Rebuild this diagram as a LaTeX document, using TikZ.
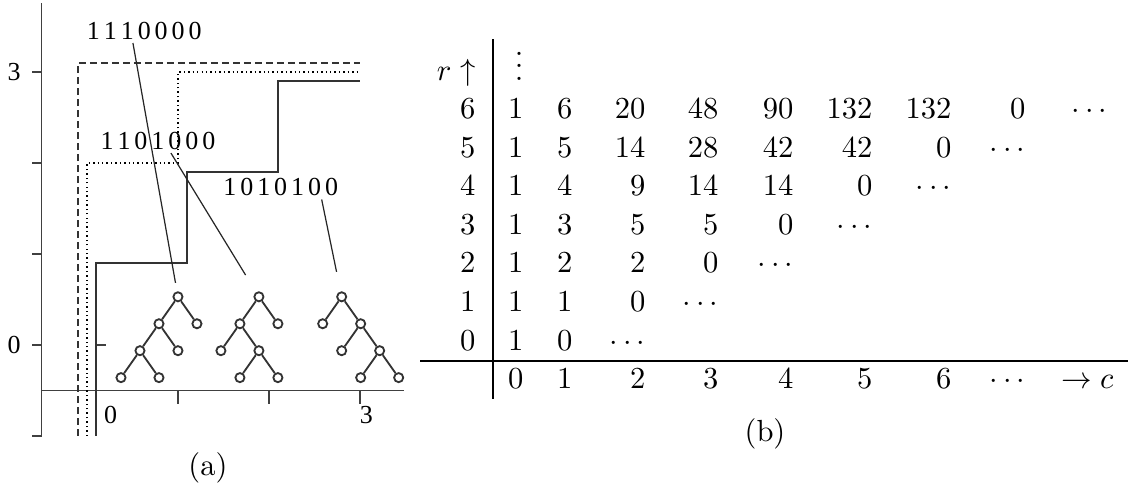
\documentclass[tikz,border=0pt]{standalone}
\usepackage{xcolor}
\usepackage{tikz}
\usepackage{fontspec}
\newfontfamily\bitfont{Liberation Serif}

\tikzset{
  axisline/.style={black!75, line width=0.5pt},
  lattice/.style={black!80, line width=0.5pt},
  pointer/.style={black!85, line width=0.4pt},
  vx/.style={circle, draw=black!80, line width=0.6pt, inner sep=0pt, minimum size=0.105cm},
  bits/.style={font={\fontsize{8.5}{9}\bitfont\spaceskip=1.3pt\relax}, inner sep=0pt},
  entry/.style={anchor=base east, inner sep=0pt}
}

\begin{document}
\begin{tikzpicture}[x=0.0115cm, y=-0.0115cm]
    \useasboundingbox (0,0) rectangle (1128,488);

    % Here is the picture (a), one unit for each step
    \begin{scope}[shift={(87,345)}, x=1.0465cm, y=1.0465cm]
    % the axes with ticks
    \draw[axisline] (-0.5,-1) -- (-0.5,3.76);
    \draw[axisline] (-0.5,-0.5) -- (3.49,-0.5);
    \foreach \v in {-1,0,1,2,3}
        \draw[axisline] (-0.6,\v) -- (-0.5,\v);
    \foreach \u in {1,2,3}
        \draw[axisline] (\u,-0.5) -- (\u,-0.65);
    \draw[axisline] (0.1,0) -- (0.21,0);

    \node[bits] (ya3) at (-0.8,3) {3};
    \node[bits] (ya0) at (-0.8,0) {0};
    \node[bits] (xa0) at (0.26,-0.77) {0};
    \node[bits] (xa3) at (3.07,-0.77) {3};

    % the three lattice paths
    \draw[lattice, dash pattern=on 2.3pt off 1.3pt] (-0.1,-1) |- (3,3.1);
    \draw[black, line width=0.55pt, dash pattern=on 0.45pt off 1pt] (0,-1) |- (1,2) |- (3,3);
    \draw[lattice] (0.1,-1) |- (1.1,0.9) |- (2.1,1.9) |- (3,2.9);

    % the trees
    \begin{scope}[level distance=0.31cm, sibling distance=0.437cm,
        edge from parent/.style={draw, black!80, line width=0.6pt}]
    \node[vx] (ta) at (1,0.53) {}
        child {node[vx] {}
            child {node[vx] {}
                child {node[vx] {}}
                child {node[vx] {}}}
            child {node[vx] {}}}
        child {node[vx] {}};
    \node[vx] (tb) at (1.89,0.53) {}
        child {node[vx] {}
            child {node[vx] {}}
            child {node[vx] {}
                child {node[vx] {}}
                child {node[vx] {}}}}
        child {node[vx] {}};
    \node[vx] (tc) at (2.8,0.53) {}
        child {node[vx] {}}
        child {node[vx] {}
            child {node[vx] {}}
            child {node[vx] {}
                child {node[vx] {}}
                child {node[vx] {}}}};
    \end{scope}

    % using node for the words
    \node[bits] (l1) at (0.63,3.45) {1 1 1 0 0 0 0};
    \node[bits] (l2) at (0.78,2.24) {1 1 0 1 0 0 0};
    \node[bits] (l3) at (2.13,1.74) {1 0 1 0 1 0 0};

    \coordinate (s1) at (0.505,3.32);
    \coordinate (s2) at (0.923,2.11);
    \coordinate (s3) at (2.58,1.60);
    \draw[pointer, shorten >=0.1cm] (s1) -- (ta);
    \draw[pointer, shorten >=0.23cm] (s2) -- (tb);
    \draw[pointer, shorten >=0.23cm] (s3) -- (tc);

    \node (capa) at (1.33,-1.346) {(a)};
    \end{scope}

    % Here is the table (b)
    \def\colx{{524,573,646,719,794,873,952,1026,1108}}
    \draw[line width=0.5pt] (493,39) -- (493,399);
    \draw[line width=0.5pt] (420,361) -- (1128,361);

    \node[entry] (rtop) at (476,80) {$r\uparrow$};
    \node[entry] (vd) at (524,80) {$\vdots$};

    \foreach \k/\vals in {0/{1,0,\cdots}, 1/{1,1,0,\cdots}, 2/{1,2,2,0,\cdots},
        3/{1,3,5,5,0,\cdots}, 4/{1,4,9,14,14,0,\cdots},
        5/{1,5,14,28,42,42,0,\cdots}, 6/{1,6,20,48,90,132,132,0,\cdots}} {
        \node[entry] (r\k) at (476,350-38.6*\k) {$\k$};
        \foreach \v [count=\c from 0] in \vals {
            \pgfmathsetmacro\cx{\colx[\c]}
            \node[entry] (e\k-\c) at (\cx,350-38.6*\k) {$\v$};
        }
    }

    \foreach \v [count=\c from 0] in {0,1,2,3,4,5,6,\cdots} {
        \pgfmathsetmacro\cx{\colx[\c]}
        \node[entry] (h\c) at (\cx,388) {$\v$};
    }
    \node[entry] (hc) at (1114,388) {$\to c$};

    \node (capb) at (765,434) {(b)};
\end{tikzpicture}
\end{document}
